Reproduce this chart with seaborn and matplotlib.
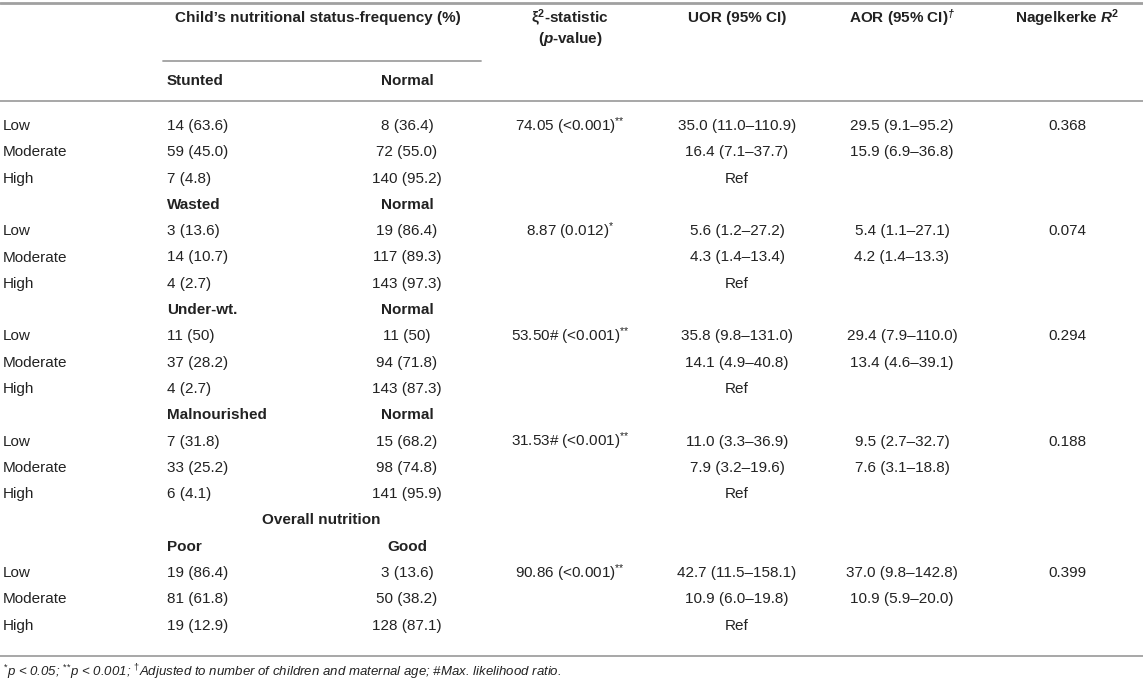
import matplotlib.pyplot as plt
import seaborn as sns

sns.set_theme(style="white")
plt.rcParams['font.family'] = ['Liberation Sans', 'DejaVu Sans']
plt.rcParams['mathtext.fontset'] = 'custom'
plt.rcParams['mathtext.rm'] = 'Liberation Sans'
plt.rcParams['mathtext.it'] = 'Liberation Sans:italic'
plt.rcParams['mathtext.bf'] = 'Liberation Sans:bold'
plt.rcParams['mathtext.bfit'] = 'Liberation Sans:italic:bold'

levels = ["Low", "Moderate", "High"]
outcome = ["Stunted", "Wasted", "Under-wt.", "Malnourished", "Poor"]
comparator = ["Normal", "Normal", "Normal", "Normal", "Good"]
affected = [["14 (63.6)", "59 (45.0)", "7 (4.8)"],
            ["3 (13.6)", "14 (10.7)", "4 (2.7)"],
            ["11 (50)", "37 (28.2)", "4 (2.7)"],
            ["7 (31.8)", "33 (25.2)", "6 (4.1)"],
            ["19 (86.4)", "81 (61.8)", "19 (12.9)"]]
normal = [["8 (36.4)", "72 (55.0)", "140 (95.2)"],
          ["19 (86.4)", "117 (89.3)", "143 (97.3)"],
          ["11 (50)", "94 (71.8)", "143 (87.3)"],
          ["15 (68.2)", "98 (74.8)", "141 (95.9)"],
          ["3 (13.6)", "50 (38.2)", "128 (87.1)"]]
chi_sq = ["74.05 (<0.001)**", "8.87 (0.012)*", "53.50# (<0.001)**",
          "31.53# (<0.001)**", "90.86 (<0.001)**"]
uor = [["35.0 (11.0–110.9)", "16.4 (7.1–37.7)", "Ref"],
       ["5.6 (1.2–27.2)", "4.3 (1.4–13.4)", "Ref"],
       ["35.8 (9.8–131.0)", "14.1 (4.9–40.8)", "Ref"],
       ["11.0 (3.3–36.9)", "7.9 (3.2–19.6)", "Ref"],
       ["42.7 (11.5–158.1)", "10.9 (6.0–19.8)", "Ref"]]
aor = [["29.5 (9.1–95.2)", "15.9 (6.9–36.8)", ""],
       ["5.4 (1.1–27.1)", "4.2 (1.4–13.3)", ""],
       ["29.4 (7.9–110.0)", "13.4 (4.6–39.1)", ""],
       ["9.5 (2.7–32.7)", "7.6 (3.1–18.8)", ""],
       ["37.0 (9.8–142.8)", "10.9 (5.9–20.0)", ""]]
r2 = ["0.368", "0.074", "0.294", "0.188", "0.399"]

W, H = 1143, 680
fig = plt.figure(figsize=(W / 100, H / 100), dpi=100)
ax = fig.add_axes([0, 0, 1, 1])
ax.set_xlim(0, W)
ax.set_ylim(H, 0)
ax.axis('off')

txt = '#222222'
rule = '#a0a0a0'
fs = 11

x_lab, x_c1, x_c2, x_chi, x_uor, x_aor, x_r2 = 3, 167, 407, 570, 737, 902, 1067

# rules
ax.plot([0, W], [3, 3], color=rule, lw=2.0)
ax.plot([163, 481], [61, 61], color=rule, lw=1.3)
ax.plot([0, W], [101, 101], color=rule, lw=1.3)
ax.plot([0, W], [656, 656], color=rule, lw=1.3)

# header
ax.text(318, 18, "Child’s nutritional status-frequency (%)", ha='center', va='center',
        fontsize=fs, weight='bold', color=txt)
ax.text(x_chi, 18, r"ξ$^{\mathbf{2}}$-statistic", ha='center', va='center', fontsize=fs, weight='bold', color=txt)
ax.text(x_chi, 39, r"($\mathbfit{p}$-value)", ha='center', va='center', fontsize=fs, weight='bold', color=txt)
ax.text(x_uor, 18, "UOR (95% CI)", ha='center', va='center', fontsize=fs, weight='bold', color=txt)
ax.text(x_aor, 18, r"AOR (95% CI)$^{\mathbfit{†}}$", ha='center', va='center', fontsize=fs, weight='bold', color=txt)
ax.text(x_r2, 18, r"Nagelkerke $\mathbfit{R}^{\mathbf{2}}$", ha='center', va='center', fontsize=fs, weight='bold', color=txt)


def stars(s):
    # superscript the significance stars
    if s.endswith('**'):
        return s[:-2] + r'$^{{*}{*}}$'
    if s.endswith('*'):
        return s[:-1] + r'$^{{*}}$'
    return s


y0, dy = 126, 26.3
row = -1
for g in range(len(outcome)):
    if g == len(outcome) - 1:
        row += 1
        ax.text(321, y0 + row * dy, "Overall nutrition", ha='center', va='center',
                fontsize=fs, weight='bold', color=txt)
    if g == 0:
        yh = 81
    else:
        row += 1
        yh = y0 + row * dy
    ax.text(x_c1, yh, outcome[g], ha='left', va='center', fontsize=fs, weight='bold', color=txt)
    ax.text(x_c2, yh, comparator[g], ha='center', va='center', fontsize=fs, weight='bold', color=txt)
    for i, lev in enumerate(levels):
        row += 1
        y = y0 + row * dy
        ax.text(x_lab, y, lev, ha='left', va='center', fontsize=fs, color=txt)
        ax.text(x_c1, y, affected[g][i], ha='left', va='center', fontsize=fs, color=txt)
        ax.text(x_c2, y, normal[g][i], ha='center', va='center', fontsize=fs, color=txt)
        ax.text(x_uor, y, uor[g][i], ha='center', va='center', fontsize=fs, color=txt)
        ax.text(x_aor, y, aor[g][i], ha='center', va='center', fontsize=fs, color=txt)
        if i == 0:
            ax.text(x_chi, y, stars(chi_sq[g]), ha='center', va='center', fontsize=fs, color=txt)
            ax.text(x_r2, y, r2[g], ha='center', va='center', fontsize=fs, color=txt)

ax.text(3, 672, r"$^{{*}}$p < 0.05; $^{{*}{*}}$p < 0.001; $^{\mathit{†}}$Adjusted to number of children "
        r"and maternal age; #Max. likelihood ratio.", ha='left', va='center', fontsize=9.5,
        style='italic', color=txt)

fig.savefig('out.png', dpi=100, facecolor='white')
